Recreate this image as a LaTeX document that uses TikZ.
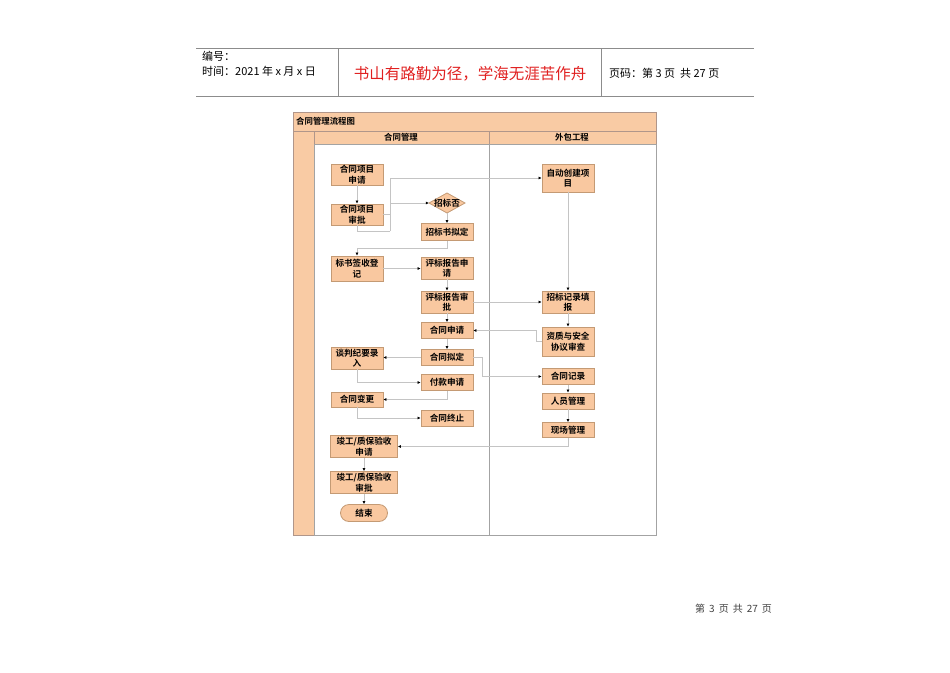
\documentclass[tikz,border=0pt]{standalone}
\usepackage{fontspec}
\setmainfont{Noto Sans CJK SC}
\newfontfamily\cjkb{Noto Sans CJK SC Bold}
\usetikzlibrary{arrows.meta}
\definecolor{nfill}{HTML}{F9C8A0}
\definecolor{nline}{HTML}{C49A74}
\definecolor{bfill}{HTML}{F9CBA4}
\definecolor{bline}{HTML}{B0968A}
\definecolor{cline}{HTML}{C4C4C4}
\definecolor{hline}{HTML}{8C8C8C}
\definecolor{redt}{HTML}{E02020}
\tikzset{
  box/.style={draw=nline, fill=nfill, line width=0.8pt, inner sep=0pt, align=center,
     minimum width=52pt, font=\cjkb\fontsize{8.6}{10.5}\selectfont},
  arr/.style={draw=cline, line width=0.6pt, -{Latex[length=3pt,width=3pt,color=black]}},
  ln/.style={draw=cline, line width=0.6pt},
  bar/.style={draw=bline, fill=bfill, line width=0.6pt},
}
\begin{document}
\begin{tikzpicture}[x=1pt,y=-1pt]
\useasboundingbox (0,0) rectangle (950,672);
% header
\draw[hline, line width=0.7pt] (196,48) -- (754,48);
\draw[hline, line width=0.7pt] (196,96) -- (754,96);
\draw[hline, line width=0.7pt] (338,48) -- (338,96);
\draw[hline, line width=0.7pt] (601,48) -- (601,96);
\node[anchor=west, inner sep=0pt, font=\fontsize{11}{13}\selectfont] (h1) at (202,56) {编号：};
\node[anchor=west, inner sep=0pt, font=\fontsize{11}{13}\selectfont] (h2) at (202,71) {时间：2021 年 x 月 x 日};
\node[inner sep=0pt, text=redt, font=\fontsize{15.5}{18}\selectfont] (h3) at (470,74) {书山有路勤为径，学海无涯苦作舟};
\node[anchor=west, inner sep=0pt, font=\fontsize{11}{13}\selectfont] (h4) at (609,73) {页码：第 3 页\ \ 共 27 页};
\node[anchor=west, inner sep=0pt, text=black!75, font=\fontsize{10}{12}\selectfont] (ft) at (695,609) {第\hspace{4pt}3\hspace{4pt}页\hspace{4pt}共\hspace{4pt}27\hspace{4pt}页};
% frame
\draw[bar] (293,112) rectangle (656,131);
\node[anchor=west, inner sep=0pt, font=\cjkb\fontsize{8.4}{10}\selectfont] (title) at (296,121.5) {合同管理流程图};
\draw[bar] (314,131) rectangle (656,144);
\draw[bar] (293,131) rectangle (314,535);
\draw[draw=hline!80, fill=white, line width=0.6pt] (314,144) rectangle (656,535);
\draw[bline, line width=0.6pt] (489,131) -- (489,144);
\draw[hline!80, line width=0.6pt] (489,144) -- (489,535);
\node[inner sep=0pt, font=\cjkb\fontsize{8.4}{10}\selectfont] (l1) at (401,137.5) {合同管理};
\node[inner sep=0pt, font=\cjkb\fontsize{8.4}{10}\selectfont] (l2) at (572,137.5) {外包工程};
% nodes
\node[box, minimum height=21pt] (a1) at (357,174.5) {合同项目\\申请};
\node[box, minimum height=21pt] (a2) at (357,214.5) {合同项目\\审批};
\draw[draw=nline, fill=nfill, line width=0.8pt] (429,203) -- (447,193) -- (465,203) -- (447,213) -- cycle;
\node[inner sep=0pt, minimum width=36pt, minimum height=20pt, font=\cjkb\fontsize{8.6}{10.5}\selectfont] (zb) at (447,203) {招标否};
\node[box, minimum height=17pt] (zs) at (447,232) {招标书拟定};
\node[box, minimum height=28pt] (zd) at (568,178) {自动创建项\\目};
\node[box, minimum height=25pt] (bq) at (357,268.5) {标书签收登\\记};
\node[box, minimum height=22pt] (pa) at (447,268) {评标报告申\\请};
\node[box, minimum height=22pt] (pb) at (447,302) {评标报告审\\批};
\node[box, minimum height=22pt] (zj) at (568,302) {招标记录填\\报};
\node[box, minimum height=16pt] (hs) at (447,330.5) {合同申请};
\node[box, minimum height=29pt] (zz) at (568,341.5) {资质与安全\\协议审查};
\node[box, minimum height=22pt] (tp) at (357,358) {谈判纪要录\\入};
\node[box, minimum height=16pt] (hn) at (447,357.5) {合同拟定};
\node[box, minimum height=16pt] (hj) at (568,376.5) {合同记录};
\node[box, minimum height=16pt] (fk) at (447,382.5) {付款申请};
\node[box, minimum height=15pt] (hb) at (357,399.5) {合同变更};
\node[box, minimum height=16pt] (ry) at (568,401) {人员管理};
\node[box, minimum height=16pt] (hz) at (447,418) {合同终止};
\node[box, minimum height=15pt] (xc) at (568,430) {现场管理};
\node[box, minimum width=67pt, minimum height=22pt] (jg1) at (364,446.5) {竣工/质保验收\\申请};
\node[box, minimum width=67pt, minimum height=22pt] (jg2) at (364,482.5) {竣工/质保验收\\审批};
\node[box, minimum width=47pt, minimum height=17pt, rounded corners=8.5pt] (js) at (364,513) {结束};
% connectors
\coordinate (cA) at (390,214.5);
\coordinate (cB) at (390,231);
\draw[arr] (a1.south) -- (a2.north);
\draw[ln] (a2.east) -- (cA);
\draw[ln] (a2.south) |- (cB);
\draw[arr] (cB) |- (zd.west);
\draw[arr] (cA) |- (zb.west);
\draw[arr] (zb.south) -- (zs.north);
\draw[arr] (zs.south) -- ++(0,7) -| (bq.north);
\draw[arr] (bq.east) -- (bq.east -| pa.west);
\draw[arr] (pa.south) -- (pb.north);
\draw[arr] (pb.east) -- (pb.east -| zj.west);
\draw[arr] (zd.south) -- (zj.north);
\draw[arr] (pb.south) -- (hs.north);
\draw[arr] (zj.south) -- (zz.north);
\draw[arr] (zz.west) -- ++(-5,0) |- (hs.east);
\draw[arr] (hs.south) -- (hn.north);
\draw[arr] (hn.west) -- (hn.west -| tp.east);
\draw[arr] (hn.east) -- ++(9,0) |- (hj.west);
\draw[arr] (tp.south) |- (fk.west);
\draw[arr] (fk.south) |- (hb.east);
\draw[arr] (hb.south) |- (hz.west);
\draw[arr] (hj.south) -- (ry.north);
\draw[arr] (ry.south) -- (xc.north);
\draw[arr] (xc.south) |- (jg1.east);
\draw[arr] (jg1.south) -- (jg2.north);
\draw[arr] (jg2.south) -- (js.north);
\end{tikzpicture}
\end{document}
